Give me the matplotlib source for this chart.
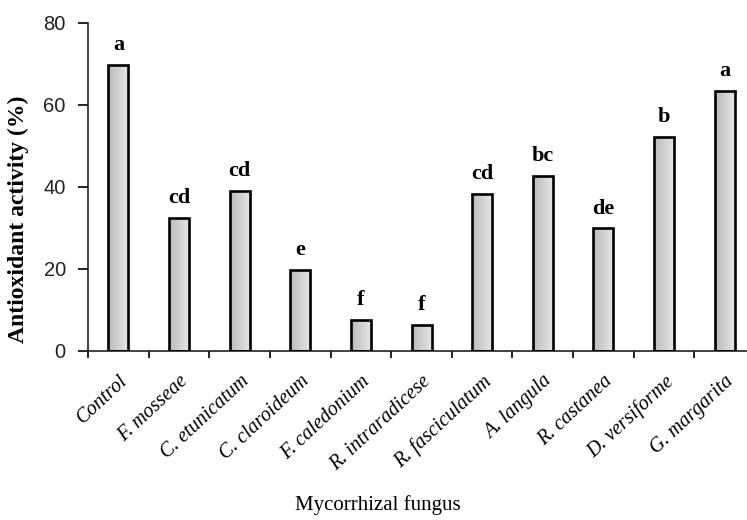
import matplotlib
matplotlib.use("Agg")
import matplotlib.pyplot as plt
import matplotlib.transforms as mtransforms
import numpy as np

# data
fungi = ["Control", "F. mosseae", "C. etunicatum", "C. claroideum", "F. caledonium",
         "R. intraradicese", "R. fasciculatum", "A. langula", "R. castanea",
         "D. versiforme", "G. margarita"]
activity = [69.8, 32.4, 39.0, 19.8, 7.6, 6.3, 38.4, 42.8, 29.9, 52.3, 63.4]
letters = ["a", "cd", "cd", "e", "f", "f", "cd", "bc", "de", "b", "a"]

SERIF = "Liberation Serif"
SANS = "Liberation Sans"

fig = plt.figure(figsize=(7.47, 5.2), dpi=100)
ax = fig.add_axes([0.1178, 0.325, 0.893, 0.6308])

x = np.arange(len(fungi))
bars = ax.bar(x, activity, width=0.33, facecolor="none", edgecolor="black",
              linewidth=1.9, zorder=3)

# horizontal grey gradient inside each bar (darker left, lighter right)
g = np.linspace(0.73, 0.91, 64)
grad = np.dstack([g, g, g]).reshape(1, -1, 3)
for b in bars:
    x0, w, h = b.get_x(), b.get_width(), b.get_height()
    im = ax.imshow(grad, aspect="auto", extent=(x0, x0 + w, 0, h), zorder=2,
                   interpolation="bilinear")
    im.set_clip_path(b)

for xi, h, lab in zip(x, activity, letters):
    ax.text(xi, h + 3.6, lab, ha="center", va="baseline", fontsize=16,
            fontweight="bold", family=SERIF)

ax.set_xlim(-0.5, len(fungi) - 0.5)
ax.set_ylim(0, 80)
ax.set_yticks([0, 20, 40, 60, 80])
ax.set_yticklabels(["0", "20", "40", "60", "80"], family=SANS, fontsize=14.5,
                   color="#222222")
ax.set_xticks(x)
ax.set_xticklabels(fungi, family=SERIF, style="italic", fontsize=14.5,
                   rotation=43, ha="right", rotation_mode="anchor")
shift = mtransforms.ScaledTranslation(-6 / 100, 0, fig.dpi_scale_trans)
for t in ax.get_xticklabels():
    t.set_transform(t.get_transform() + shift)
ax.set_xticks(np.arange(len(fungi) + 1) - 0.5, minor=True)
ax.tick_params(axis="x", which="major", length=0, pad=15)
ax.tick_params(axis="x", which="minor", length=5, width=1.2, direction="out")
ax.tick_params(axis="y", length=7, width=1.2, direction="out", pad=9)

for s in ["top", "right"]:
    ax.spines[s].set_visible(False)
for s in ["left", "bottom"]:
    ax.spines[s].set_linewidth(1.2)
    ax.spines[s].set_color("#222222")

fig.text(18 / 747, 1 - 219 / 520, "Antioxidant activity (%)", family=SERIF,
         fontweight="bold", fontsize=17, rotation=90, ha="center", va="center")
fig.text(378 / 747, 1 - 505 / 520, "Mycorrhizal fungus", family=SERIF,
         fontsize=15, ha="center", va="center")

fig.savefig("out.png", dpi=100)
